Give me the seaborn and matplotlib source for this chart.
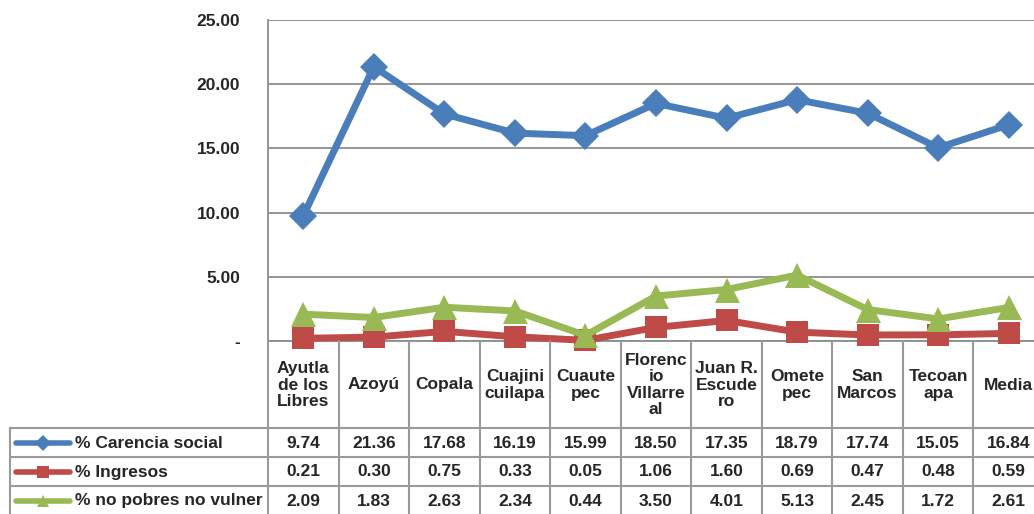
import pandas as pd
import matplotlib
matplotlib.use("Agg")
import matplotlib.pyplot as plt
import matplotlib.transforms as mtransforms
from matplotlib.lines import Line2D
import seaborn as sns

# chart data
municipios = ["Ayutla\nde los\nLibres", "Azoyú", "Copala", "Cuajini\ncuilapa", "Cuaute\npec",
              "Florenc\nio\nVillarre\nal", "Juan R.\nEscude\nro", "Omete\npec", "San\nMarcos",
              "Tecoan\napa", "Media"]
carencia_social = [9.74, 21.36, 17.68, 16.19, 15.99, 18.50, 17.35, 18.79, 17.74, 15.05, 16.84]
ingresos = [0.21, 0.30, 0.75, 0.33, 0.05, 1.06, 1.60, 0.69, 0.47, 0.48, 0.59]
no_pobres = [2.09, 1.83, 2.63, 2.34, 0.44, 3.50, 4.01, 5.13, 2.45, 1.72, 2.61]
series_names = ["% Carencia social", "% Ingresos", "% no pobres no vulner"]
y_ticks = [0, 5, 10, 15, 20, 25]
y_labels = ["-", "5.00", "10.00", "15.00", "20.00", "25.00"]

sns.set_style("white")
plt.rcParams["font.family"] = ["Liberation Sans", "DejaVu Sans"]

W, H = 1034, 514
fig = plt.figure(figsize=(W / 100, H / 100), dpi=100)

def fx(x):
    return x / W

def fy(y):
    return 1 - y / H

# plot area (extends past the right edge, like the cropped original)
ax = fig.add_axes([fx(268), fy(341), (1044 - 268) / W, (341 - 20) / H])

colors = ["#4a7ebb", "#be4b48", "#98b954"]
markers = ["D", "s", "^"]
msizes = [14, 16, 18]
values = [carencia_social, ingresos, no_pobres]
fs = 12.5

df = pd.DataFrame({"municipio": municipios * 3,
                   "valor": carencia_social + ingresos + no_pobres,
                   "serie": [s for s in series_names for _ in municipios]})

for name, c, m, ms in zip(series_names, colors, markers, msizes):
    sns.lineplot(data=df[df["serie"] == name], x="municipio", y="valor", sort=False,
                 color=c, marker=m, markersize=ms, markeredgewidth=0, linewidth=5,
                 ax=ax, clip_on=False, zorder=3)

ax.set_xlim(-0.5, len(municipios) - 0.5)
ax.set_ylim(0, 25)
ax.set_yticks(y_ticks)
ax.set_yticklabels(y_labels, fontsize=fs, fontweight="bold")
ax.tick_params(axis="y", length=0, pad=20)
ax.set_xticks([])
ax.set_xlabel("")
ax.set_ylabel("")
ax.yaxis.grid(True, color="#8c8c8c", linewidth=1.3)
for side in ["top", "right"]:
    ax.spines[side].set_visible(False)
for side in ["left", "bottom"]:
    ax.spines[side].set_color("#8c8c8c")
    ax.spines[side].set_linewidth(1.3)

# data table under the plot
grid_c = "#9a9a9a"
blend = mtransforms.blended_transform_factory(ax.transData, fig.transFigure)
n = len(municipios)
for i in range(n + 1):
    fig.add_artist(Line2D([i - 0.5, i - 0.5], [fy(341), fy(516)], transform=blend,
                          color=grid_c, linewidth=1.5))
row_lines = [428, 457, 486]
for yl in row_lines:
    fig.add_artist(Line2D([fx(10), 1.0], [fy(yl), fy(yl)], transform=fig.transFigure,
                          color=grid_c, linewidth=1.5))
fig.add_artist(Line2D([fx(10), fx(10)], [fy(428), fy(516)], transform=fig.transFigure,
                      color=grid_c, linewidth=1.5))

for i, lab in enumerate(municipios):
    fig.text(i, fy(385), lab, transform=blend, ha="center", va="center",
             fontsize=fs, fontweight="bold", linespacing=1.1)

row_centers = [443, 472, 501]
for vals, name, c, m, yc in zip(values, series_names, colors, markers, row_centers):
    fig.add_artist(Line2D([fx(16), fx(70)], [fy(yc), fy(yc)], transform=fig.transFigure,
                          color=c, linewidth=4))
    fig.add_artist(Line2D([fx(43)], [fy(yc)], transform=fig.transFigure, color=c,
                          marker=m, markersize=8, markeredgewidth=0, linestyle="none"))
    fig.text(fx(75), fy(yc), name, ha="left", va="center", fontsize=fs, fontweight="bold")
    for i, v in enumerate(vals):
        fig.text(i, fy(yc), f"{v:.2f}", transform=blend, ha="center", va="center",
                 fontsize=fs, fontweight="bold")

fig.savefig("out.png", dpi=100)
